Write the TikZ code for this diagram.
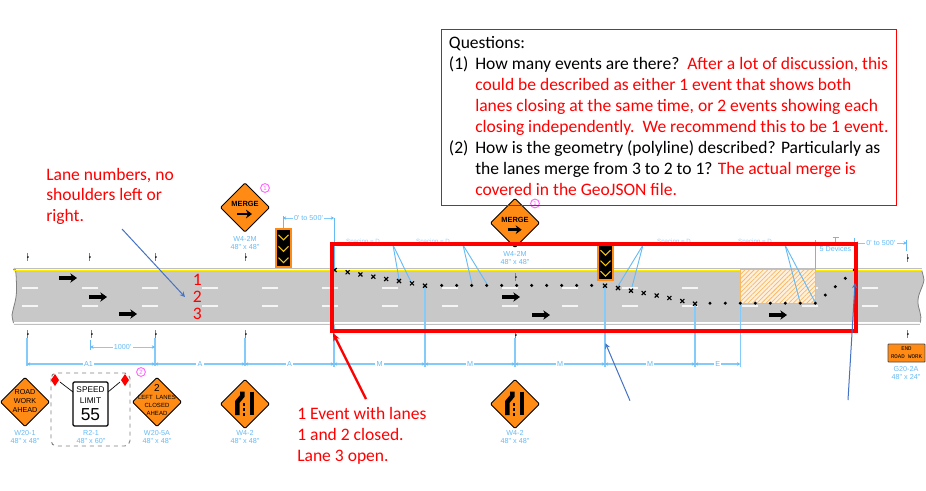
\documentclass[tikz,border=0pt]{standalone}
\usepackage{fontspec}
\setmainfont{Carlito}
\newfontfamily\signfont{Liberation Sans}
\newfontfamily\monosign{Liberation Mono}
\usetikzlibrary{arrows.meta,patterns.meta}

\definecolor{roadgray}{HTML}{C8C8C8}
\definecolor{signorange}{HTML}{FF8A14}
\definecolor{planblue}{HTML}{66BBF5}
\definecolor{dimblue}{HTML}{85CBF9}
\definecolor{noteblue}{HTML}{4472C4}
\definecolor{markpink}{HTML}{FF66FF}
\definecolor{hatchorange}{HTML}{F9B95F}
\definecolor{chevyellow}{HTML}{F2C417}

\tikzset{
	notetext/.style={font=\fontsize{13.15}{15}\selectfont, anchor=base west, inner sep=0pt},
	rednote/.style={notetext, red},
	planlabel/.style={font=\signfont\fontsize{5.4}{6}\selectfont, planblue, inner sep=0pt},
	faintlabel/.style={font=\signfont\fontsize{4.6}{6}\selectfont, planblue!70, inner sep=0pt},
	dimlabel/.style={font=\signfont\fontsize{5.4}{6}\selectfont, planblue, fill=white, inner sep=1pt},
	signtext/.style={font=\signfont\fontsize{5.4}{6}\selectfont, inner sep=0pt},
	signbody/.style={fill=signorange, draw=black, line width=0.7pt, rounded corners=1pt},
	dimline/.style={dimblue, line width=1.1pt},
	dimarrow/.style={dimline, {Stealth[length=2.4pt,width=2.6pt,planblue]}-{Stealth[length=2.4pt,width=2.6pt,planblue]}},
	leader/.style={planblue, line width=0.7pt},
	roadarrow/.style={black, line width=2.3pt, -{Stealth[length=5pt,width=7pt]}},
	signarrow/.style={black, line width=2pt, -{Stealth[length=4.5pt,width=6.5pt]}},
	notearrow/.style={noteblue, line width=0.75pt, -stealth},
	crossmark/.style={black, line width=0.85pt},
	circlemark/.style={draw=markpink, circle, line width=0.7pt, minimum size=6.6pt, inner sep=0pt, markpink, font=\signfont\fontsize{4.5}{5}\selectfont},
}

\begin{document}
\begin{tikzpicture}[x=0.75pt,y=-0.75pt]
	\useasboundingbox [fill=white] (0,0) rectangle (926,490);

	% road
	\path [fill=roadgray] (13.5,270) to [out=70, in=90] (16.5,290) to [out=-90, in=80] (12,315) to [out=-80, in=110] (13.5,323) -- (920,323) to [out=70, in=-95] (918,300) to [out=85, in=-100] (924,280) to [out=100, in=-70] (921.5,270) -- cycle;
	\draw [gray, line width=0.6pt] (13.5,270) to [out=70, in=90] (16.5,290) to [out=-90, in=80] (12,315) to [out=-80, in=110] (13.5,323);
	\draw [gray, line width=0.6pt] (920,323) to [out=70, in=-95] (918,300) to [out=85, in=-100] (924,280) to [out=100, in=-70] (921.5,270);
	\draw [lightgray, line width=0.5pt] (13.5,268.6) -- (921.5,268.6);
	\draw [yellow!95!orange, line width=0.9pt] (13.5,270.4) -- (921.5,270.4);
	\draw [white, line width=1.3pt] (13.5,322.6) -- (920,322.6);
	\draw [lightgray, line width=0.5pt] (13.5,324.2) -- (920,324.2);

	% lane dashes
	\foreach \x in {22,82,142,202,262,322,382,442,502,562,622,682,742,802,862} {
		\draw [white!92!gray, line width=1.2pt] (\x,287.7) -- +(16,0);
		\draw [white!92!gray, line width=1.2pt] (\x,305.7) -- +(16,0);
	}

	% closed area
	\path [fill=orange!12, draw=hatchorange, line width=1pt, postaction={pattern={Lines[angle=45,distance=2.4pt,line width=0.55pt]}, pattern color=hatchorange}] (740.3,269.5) rectangle (815.5,303.3);

	\foreach \x/\y in {68/278,98/297,128/314,511/297,541/315,778/315}
		\draw [roadarrow] (\x-9,\y) -- (\x+9,\y);

	% ticks
	\foreach \x/\y in {27/257,89/257,155/257,245/257,515/277,907/258,27/334,91/334,155/334,245/334,515/335,907/334} {
		\draw [gray, line width=0.5pt] (\x,\y-4) -- (\x,\y+4);
		\fill [black] (\x+0.9,\y) circle (0.9);
	}

	% plan dimensions
	\draw [dimline] (27,338) -- (27,366);
	\draw [dimline] (155,338) -- (155,366);
	\draw [dimline] (245,338) -- (245,366);
	\draw [dimline] (334,325) -- (334,367);
	\draw [dimline] (425,286) -- (425,367);
	\draw [dimline] (515,338) -- (515,367);
	\draw [dimline] (605,286) -- (605,367);
	\draw [dimline] (695,304) -- (695,367);
	\draw [dimline] (740.3,304) -- (740.3,367);
	\draw [leader] (90.3,340) -- (90.3,350);
	\draw [leader] (334,218) -- (334,270);
	\draw [leader] (815.7,240) -- (815.7,269);
	\draw [leader] (854.5,238) -- (854.5,270);
	\draw [leader] (906.7,240) -- (906.7,251);
	\draw [leader] (283,216) -- (283,228);
	\draw [leader] (832.7,237) -- (838.7,237) (835.7,237) -- (835.7,243);

	\draw [dimarrow] (27,364) -- (155,364) node [dimlabel, pos=0.48] (dimAone) {A1};
	\draw [dimarrow] (155,364) -- (245,364) node [dimlabel, midway] (dimAtwo) {A};
	\draw [dimarrow] (245,364) -- (334,364) node [dimlabel, midway] (dimAthree) {A};
	\draw [dimarrow] (334,364) -- (425,364) node [dimlabel, midway] (dimMone) {M};
	\draw [dimarrow] (425,364) -- (515,364) node [dimlabel, midway] (dimMtwo) {M};
	\draw [dimarrow] (515,364) -- (605,364) node [dimlabel, midway] (dimMthree) {M};
	\draw [dimarrow] (605,364) -- (695,364) node [dimlabel, midway] (dimMfour) {M};
	\draw [dimarrow] (695,364) -- (740.3,364) node [dimlabel, midway] (dimE) {E};
	\draw [dimarrow, line width=0.7pt] (90.3,347) -- (155,347) node [dimlabel, midway] (dimThousand) {1000'};
	\draw [dimarrow, line width=0.7pt] (283,218) -- (334,218) node [dimlabel, midway] (dimStart) {0' to 500'};
	\draw [dimarrow, line width=0.7pt] (855,243) -- (906.7,243) node [dimlabel, midway] (dimEnd) {0' to 500'};

	% spacing labels and their leaders
	\node [faintlabel] (spacingone) at (363,241.5) {Spacing = D};
	\node [faintlabel] (spacingtwo) at (433,241.5) {Spacing = D};
	\node [faintlabel] (spacingthree) at (674,241.5) {Spacing = D};
	\node [faintlabel] (spacingfour) at (755,241.5) {Spacing = D};
	\node [planlabel] (devices) at (835.5,249) {5 Devices};
	\foreach \xa/\xb/\yb/\xc/\yc in {393/399/279/411/282, 463/472/284/487/284, 643/618/286/632/287, 785/800/302/815/302} {
		\draw [leader] (\xa,245) -- (\xb,\yb);
		\draw [leader] (\xa,245) -- (\xc,\yc);
	}

	% channelizing devices
	\foreach \x/\y in {334.7/270,347.7/272.2,360.4/274.4,373.3/276.7,386.2/279,399/281,412/283.3,425/285.7,605/285.7,618/288,631/290.7,643.7/293,656.7/295.5,669.4/298,682.3/301,695/303.7}
		\draw [crossmark] (\x,\y) +(-2,-2) -- +(2,2) +(-2,2) -- +(2,-2);
	\foreach \x in {441.7,456.7,471.7,486.7,501.7,516.7,531.7,546.7,561.7,576.7,591.7}
		\fill [black] (\x,285.4) circle (1.7);
	\foreach \x/\y in {710/303.2,725.3/303.2,740.3/303.2,755.3/303.2,770.3/303.2,785.3/303.2,800.3/303.2,815.3/303.2,825.3/295,835.3/286.7,845.3/278.3,854.3/270}
		\fill [black] (\x,\y) circle (1.7);

	% chevron boards
	\foreach \xl/\yt/\yb in {276/229/267,598/245/280} {
		\draw [fill=black, draw=signorange, line width=0.8pt] (\xl,\yt) rectangle (\xl+15,\yb);
		\foreach \f in {0.22,0.52,0.82}
			\draw [chevyellow, line width=0.8pt] (\xl+2.5,{\yt+\f*(\yb-\yt)-2.5}) -- (\xl+7.5,{\yt+\f*(\yb-\yt)+2.5}) -- (\xl+12.5,{\yt+\f*(\yb-\yt)-2.5});
	}

	% diamond signs
	\foreach \x/\y in {245/207.5,515/223,25/402,157/402,245/404,515/404}
		\draw [signbody] (\x,\y) +(0,-24.5) -- +(24.5,0) -- +(0,24.5) -- +(-24.5,0) -- cycle;

	\node [signtext, font=\signfont\bfseries\fontsize{5.6}{6}\selectfont] (mergeone) at (245,204) {MERGE};
	\draw [signarrow] (237,214) -- (252,214);
	\node [signtext, font=\signfont\bfseries\fontsize{5.6}{6}\selectfont] (mergetwo) at (515,219.5) {MERGE};
	\draw [signarrow] (507.7,229.7) -- (521.7,229.7);

	\node [signtext] (roadsign) at (25,392) {ROAD};
	\node [signtext] (worksign) at (25,401) {WORK};
	\node [signtext] (aheadsign) at (25,410) {AHEAD};

	\node [signtext, font=\signfont\fontsize{7.5}{8}\selectfont] (twosign) at (157,388.5) {2};
	\node [signtext, font=\signfont\fontsize{4.5}{5}\selectfont] (leftsign) at (157,397) {LEFT\ \ LANES};
	\node [signtext, font=\signfont\fontsize{4.5}{5}\selectfont] (closedsign) at (157,405) {CLOSED};
	\node [signtext, font=\signfont\fontsize{4.5}{5}\selectfont] (aheadsigntwo) at (157,413) {AHEAD};

	\foreach \x in {245,515} {
		\draw [black, line width=3.4pt] (\x+7,391.5) -- (\x+7,415);
		\draw [black, line width=3.4pt] (\x-2.7,391.5) -- (\x-2.7,396) -- (\x-7.7,402) -- (\x-7.7,415);
		\draw [black, line width=1.3pt] (\x-1.3,403) -- (\x-1.3,406) (\x-1.3,408) -- (\x-1.3,411) (\x-1.3,413) -- (\x-1.3,415.5);
	}

	% speed limit assembly
	\draw [gray, dashed, line width=0.7pt, rounded corners=4pt] (51,373) rectangle (130,446);
	\draw [black, line width=0.5pt] (60,382) -- (73,392);
	\draw [black, line width=0.5pt] (120,382) -- (108,392);
	\foreach \x in {55,125}
		\fill [red] (\x,380) +(0,-6) -- +(4,0) -- +(0,6) -- +(-4,0) -- cycle;
	\draw [fill=white, draw=black, line width=0.9pt, rounded corners=1pt] (73,382) rectangle (108,426);
	\node [signtext, font=\signfont\fontsize{6.2}{7}\selectfont] (speedsign) at (90.5,390) {SPEED};
	\node [signtext, font=\signfont\fontsize{6.2}{7}\selectfont] (limitsign) at (90.5,401) {LIMIT};
	\node [signtext, font=\signfont\fontsize{13}{13}\selectfont] (fiftyfive) at (90.5,414.5) {55};

	% end sign
	\draw [fill=signorange, draw=black!70, line width=0.7pt, rounded corners=0.5pt] (888,344) rectangle (925,362);
	\node [signtext, font=\monosign\fontsize{4.3}{5}\selectfont] (endsign) at (906.5,349) {END};
	\node [signtext, font=\monosign\fontsize{4.3}{5}\selectfont] (roadworksign) at (906.5,357) {ROAD WORK};

	% sign labels
	\foreach \nm/\x/\y/\txt in {a/245/239/W4-2M,b/515/254/W4-2M,c/25/433/W20-1,d/91/433/R2-1,e/157/433/W20-5A,f/245/433/W4-2,g/515/433/W4-2,h/906/369/G20-2A}
		\node [planlabel] (code\nm) at (\x,\y) {\txt};
	\foreach \nm/\x/\y/\txt in {a/245/247/48" x 48",b/515/262/48" x 48",c/25/441/48" x 48",d/91/441/48" x 60",e/157/441/48" x 48",f/245/441/48" x 48",g/515/441/48" x 48",h/906/377/48" x 24"}
		\node [planlabel] (size\nm) at (\x,\y) {\txt};

	\node [circlemark] (markone) at (265,188) {1};
	\node [circlemark] (marktwo) at (141,372) {2};
	\node [circlemark] (markthree) at (535,203.5) {1};

	% event outline
	\draw [red, line width=2.4pt] (332,244) rectangle (856,331);

	\draw [notearrow] (122,229) -- (185,297);
	\draw [notearrow] (630,400.7) -- (605.5,343.3);
	\draw [notearrow] (848,400) -- (855,283);
	\draw [red, line width=1.7pt, -{Stealth[length=6pt,width=5pt]}] (366,399) -- (333,333);

	% notes
	\node [rednote] (lanesa) at (46,180) {Lane numbers, no};
	\node [rednote] (lanesb) at (46,200.5) {shoulders left or};
	\node [rednote] (lanesc) at (46,221) {right.};
	\node [rednote] (laneone) at (192.5,285.5) {1};
	\node [rednote] (lanetwo) at (192.5,302.5) {2};
	\node [rednote] (lanethree) at (192.5,319.5) {3};
	\node [rednote] (eventa) at (297,419) {1 Event with lanes};
	\node [rednote] (eventb) at (297,440) {1 and 2 closed.};
	\node [rednote] (eventc) at (297,461) {Lane 3 open.};

	% question box
	\draw [red, line width=0.8pt] (441.3,29.3) rectangle (896.7,205.7);
	\node [notetext] (quest) at (448.7,48.3) {Questions:};
	\node [notetext] (numone) at (448.7,69) {(1)};
	\node [notetext] (questa) at (475,69) {How many events are there?\ \ \textcolor{red}{After a lot of discussion, this}};
	\node [rednote] (questb) at (475,90) {could be described as either 1 event that shows both};
	\node [rednote] (questc) at (475,111) {lanes closing at the same time, or 2 events showing each};
	\node [rednote] (questd) at (475,132) {closing independently.\ \ We recommend this to be 1 event.};
	\node [notetext] (numtwo) at (448.7,153) {(2)};
	\node [notetext] (queste) at (475,153) {How is the geometry (polyline) described? Particularly as};
	\node [notetext] (questf) at (475,174) {the lanes merge from 3 to 2 to 1? \textcolor{red}{The actual merge is}};
	\node [rednote] (questg) at (475,195) {covered in the GeoJSON file.};
\end{tikzpicture}
\end{document}
